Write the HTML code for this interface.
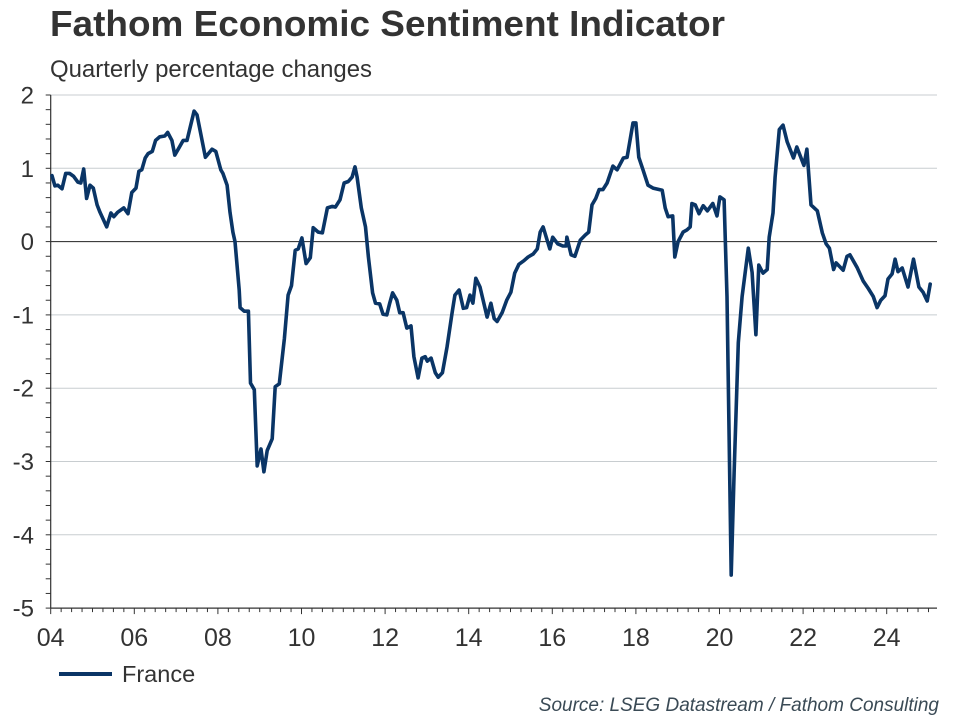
<!DOCTYPE html>
<html><head><meta charset="utf-8"><style>
html,body{margin:0;padding:0;background:#fff;width:960px;height:720px;overflow:hidden}
svg{display:block;font-family:"Liberation Sans",Arial,sans-serif}
</style></head><body>
<svg id="chart" width="960" height="720" viewBox="0 0 960 720" xmlns="http://www.w3.org/2000/svg">
<text x="50" y="36" font-size="36.5" font-weight="bold" fill="#333" textLength="675" lengthAdjust="spacingAndGlyphs">Fathom Economic Sentiment Indicator</text>
<text x="50" y="77" font-size="24" fill="#333" textLength="322" lengthAdjust="spacingAndGlyphs">Quarterly percentage changes</text>
<g id="grid"></g>
<g id="yaxis"></g>
<g id="xaxis"></g>
<g id="series"></g>
<g>
<line x1="59" y1="674" x2="112" y2="674" stroke="#0a3566" stroke-width="4"/>
<text x="122" y="682" font-size="23.5" fill="#333">France</text>
</g>
<text x="939" y="711" font-size="19" font-style="italic" fill="#3a4a55" text-anchor="end">Source: LSEG Datastream / Fathom Consulting</text>
</svg>
<script>
const dates=[2004.03,2004.10,2004.17,2004.27,2004.36,2004.45,2004.55,2004.65,2004.72,2004.79,2004.86,2004.94,2005.02,2005.11,2005.18,2005.34,2005.44,2005.51,2005.60,2005.75,2005.85,2005.94,2006.04,2006.11,2006.18,2006.26,2006.33,2006.43,2006.51,2006.61,2006.73,2006.80,2006.90,2006.97,2007.07,2007.17,2007.26,2007.43,2007.50,2007.70,2007.86,2007.95,2008.07,2008.12,2008.22,2008.29,2008.36,2008.41,2008.51,2008.53,2008.63,2008.73,2008.78,2008.87,2008.94,2009.03,2009.10,2009.18,2009.30,2009.37,2009.47,2009.59,2009.68,2009.76,2009.85,2009.92,2010.01,2010.11,2010.21,2010.28,2010.40,2010.50,2010.62,2010.74,2010.81,2010.92,2011.02,2011.12,2011.21,2011.28,2011.33,2011.43,2011.53,2011.60,2011.70,2011.77,2011.87,2011.95,2012.04,2012.11,2012.18,2012.28,2012.35,2012.43,2012.52,2012.62,2012.69,2012.79,2012.88,2012.96,2013.01,2013.10,2013.20,2013.27,2013.37,2013.48,2013.60,2013.67,2013.77,2013.87,2013.95,2014.03,2014.10,2014.17,2014.27,2014.44,2014.53,2014.61,2014.68,2014.80,2014.91,2015.01,2015.10,2015.20,2015.32,2015.42,2015.54,2015.64,2015.71,2015.78,2015.94,2016.01,2016.13,2016.25,2016.33,2016.35,2016.45,2016.54,2016.67,2016.79,2016.87,2016.95,2017.04,2017.12,2017.21,2017.31,2017.45,2017.55,2017.70,2017.79,2017.93,2018.00,2018.07,2018.17,2018.29,2018.41,2018.63,2018.70,2018.77,2018.88,2018.93,2019.01,2019.13,2019.22,2019.30,2019.34,2019.42,2019.51,2019.61,2019.71,2019.84,2019.94,2020.01,2020.11,2020.18,2020.28,2020.35,2020.45,2020.54,2020.69,2020.78,2020.87,2020.94,2021.04,2021.14,2021.19,2021.28,2021.33,2021.43,2021.52,2021.62,2021.77,2021.85,2022.02,2022.09,2022.19,2022.34,2022.46,2022.55,2022.63,2022.73,2022.79,2022.96,2023.05,2023.12,2023.29,2023.44,2023.56,2023.68,2023.77,2023.86,2023.96,2024.03,2024.13,2024.20,2024.27,2024.37,2024.51,2024.64,2024.77,2024.87,2024.97,2025.04];
const values=[0.9,0.76,0.77,0.72,0.93,0.93,0.89,0.81,0.8,0.99,0.59,0.77,0.73,0.5,0.4,0.2,0.39,0.34,0.4,0.46,0.38,0.67,0.73,0.96,0.98,1.14,1.2,1.23,1.38,1.43,1.44,1.49,1.38,1.18,1.28,1.38,1.38,1.78,1.73,1.15,1.26,1.23,0.98,0.93,0.77,0.4,0.13,0,-0.66,-0.9,-0.95,-0.95,-1.93,-2.02,-3.06,-2.83,-3.14,-2.85,-2.69,-1.98,-1.94,-1.32,-0.73,-0.6,-0.12,-0.1,0.05,-0.3,-0.22,0.19,0.13,0.12,0.46,0.48,0.47,0.57,0.8,0.82,0.88,1.02,0.88,0.46,0.2,-0.21,-0.7,-0.84,-0.85,-0.99,-1.0,-0.84,-0.7,-0.8,-0.97,-0.97,-1.18,-1.15,-1.57,-1.86,-1.59,-1.57,-1.63,-1.59,-1.79,-1.85,-1.79,-1.44,-0.98,-0.73,-0.66,-0.91,-0.9,-0.73,-0.84,-0.5,-0.62,-1.03,-0.84,-1.05,-1.09,-0.97,-0.8,-0.69,-0.43,-0.31,-0.26,-0.21,-0.17,-0.1,0.13,0.2,-0.1,0.06,-0.03,-0.06,-0.06,0.06,-0.18,-0.2,0.02,0.09,0.13,0.5,0.59,0.71,0.71,0.8,1.03,0.98,1.14,1.15,1.62,1.62,1.15,0.98,0.77,0.73,0.7,0.46,0.34,0.35,-0.21,0,0.13,0.16,0.2,0.52,0.5,0.38,0.49,0.42,0.52,0.35,0.61,0.57,-0.75,-4.55,-3.16,-1.38,-0.75,-0.09,-0.42,-1.27,-0.32,-0.43,-0.38,0.06,0.39,0.88,1.53,1.59,1.36,1.14,1.29,1.04,1.26,0.5,0.42,0.12,-0.03,-0.09,-0.38,-0.29,-0.39,-0.2,-0.18,-0.35,-0.54,-0.64,-0.75,-0.9,-0.8,-0.74,-0.51,-0.44,-0.24,-0.41,-0.36,-0.62,-0.24,-0.62,-0.69,-0.81,-0.58];
const yTicks=[2,1,0,-1,-2,-3,-4,-5];
const yTickLabels=["2","1","0","-1","-2","-3","-4","-5"];
const xTickYears=[2004,2006,2008,2010,2012,2014,2016,2018,2020,2022,2024];
const xTickLabels=["04","06","08","10","12","14","16","18","20","22","24"];

const NS="http://www.w3.org/2000/svg";
const X0=50.7,PERYR=41.8,XR=937,Y2=95,YPER=73.3;
function xs(d){return X0+(d-2004)*PERYR;}
function ys(v){return Y2+(2-v)*YPER;}
function mk(tag,attrs,parent){const e=document.createElementNS(NS,tag);for(const k in attrs)e.setAttribute(k,attrs[k]);parent.appendChild(e);return e;}
const grid=document.getElementById('grid'),ya=document.getElementById('yaxis'),xa=document.getElementById('xaxis'),ser=document.getElementById('series');
yTicks.forEach((t,i)=>{
  const y=ys(t);
  if(t!==-5){
    const g=mk('line',{x1:X0,x2:XR,y1:y,y2:y,stroke:t===0?'#222':'#c8cdd0','stroke-width':1},grid);
    
    
  }
  const lb=mk('text',{x:34,y:y+8.5,'font-size':24,'text-anchor':'end',fill:'#333'},ya);
  lb.textContent=yTickLabels[i];
  
  
});
for(let v=-5;v<=2.0001;v+=0.2){const y=ys(v);mk('line',{x1:X0-5,x2:X0,y1:y,y2:y,stroke:'#333','stroke-width':1},ya);}
mk('line',{x1:X0,x2:X0,y1:Y2,y2:ys(-5),stroke:'#333','stroke-width':1.2},ya);
mk('line',{x1:X0,x2:XR,y1:ys(-5),y2:ys(-5),stroke:'#333','stroke-width':1.2},xa);
for(let q=0;q<=85;q++){const x=X0+q*PERYR/4;if(x>XR+0.5)break;const major=q%4===0;mk('line',{x1:x,x2:x,y1:ys(-5),y2:ys(-5)+(major&&q%8===0?6:4),stroke:'#333','stroke-width':1},xa);}
xTickYears.forEach((yr,i)=>{
  const t=mk('text',{x:xs(yr),y:646,'font-size':25,'text-anchor':'middle',fill:'#333'},xa);
  t.textContent=xTickLabels[i];
  
  
});
const pts=dates.map((d,i)=>xs(d).toFixed(1)+','+ys(values[i]).toFixed(1)).join(' ');
const line=mk('polyline',{points:pts,fill:'none',stroke:'#0a3566','stroke-width':3.6,'stroke-linejoin':'round','stroke-linecap':'round'},ser);


</script>
</body></html>
